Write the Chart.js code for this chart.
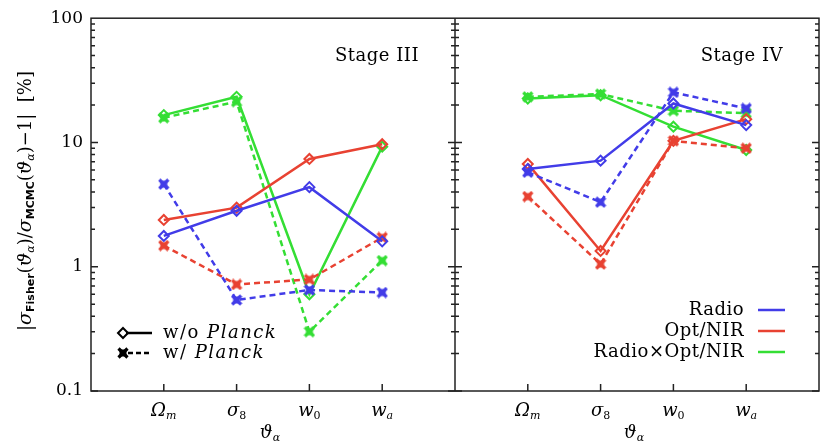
<!DOCTYPE html>
<html>
<head>
<meta charset="utf-8">
<script src="https://cdn.jsdelivr.net/npm/chart.js@4"></script>
<style>
  body { margin: 0; background: #fff; }
  #wrap { width: 830px; height: 447px; }
</style>
</head>
<body>
<div id="wrap"><canvas id="myChart" width="830" height="447"></canvas></div>
<script>
// parameters (x tick labels, main symbol + subscript)
const paramMain = ['Ω', 'σ', 'w', 'w'];
const paramSub = ['m', '8', '0', 'a'];
const stage3X = [1, 2, 3, 4];
const stage4X = [6, 7, 8, 9];

const yTickValues = [0.1, 1, 10, 100];
const yTickLabels = ['0.1', '1', '10', '100'];

// Stage III, |sigma_Fisher/sigma_MCMC - 1| in %
const s3RadioNoPlanck = [1.77, 2.82, 4.37, 1.60];
const s3RadioPlanck   = [4.62, 0.54, 0.65, 0.62];
const s3OptNoPlanck   = [2.38, 2.99, 7.37, 9.67];
const s3OptPlanck     = [1.48, 0.72, 0.79, 1.72];
const s3CrossNoPlanck = [16.6, 23.3, 0.60, 9.25];
const s3CrossPlanck   = [15.8, 21.3, 0.30, 1.12];

// Stage IV
const s4RadioNoPlanck = [6.12, 7.14, 20.6, 13.8];
const s4RadioPlanck   = [5.76, 3.31, 25.3, 18.8];
const s4OptNoPlanck   = [6.72, 1.34, 10.3, 15.4];
const s4OptPlanck     = [3.67, 1.05, 10.3, 8.98];
const s4CrossNoPlanck = [22.6, 24.0, 13.4, 8.7];
const s4CrossPlanck   = [23.3, 24.5, 18.0, 17.2];

const BLUE = 'rgb(66,60,232)';
const RED = 'rgb(232,66,50)';
const GREEN = 'rgb(52,222,52)';
const SERIF = '"DejaVu Serif", serif';

function starMarker(color) {
    let c = document.createElement('canvas');
    c.width = 12; c.height = 12;
    let g = c.getContext('2d');
    g.strokeStyle = color; g.fillStyle = color;
    g.lineWidth = 3.2;
    g.beginPath();
    g.moveTo(1.5, 1.5); g.lineTo(10.5, 10.5);
    g.moveTo(10.5, 1.5); g.lineTo(1.5, 10.5);
    g.stroke();
    g.fillRect(2.5, 2.5, 7, 7);
    return c;
}

function series(xs, ys, color, planck) {
    return {
        data: xs.map((x, i) => ({x: x, y: ys[i]})),
        borderColor: color,
        backgroundColor: 'rgba(0,0,0,0)',
        borderWidth: 2.5,
        borderDash: planck ? [6, 4] : [],
        pointStyle: planck ? starMarker(color) : 'rectRot',
        pointRadius: 5,
        pointBorderWidth: 2,
        pointBorderColor: color,
        pointBackgroundColor: 'rgba(0,0,0,0)',
        tension: 0
    };
}

// draw a run of text pieces, each {t, font, dy}
function drawRich(ctx, parts, x, y, align) {
    let w = 0;
    parts.forEach(p => { ctx.font = p.font; w += ctx.measureText(p.t).width; });
    let cx = align === 'center' ? x - w / 2 : (align === 'right' ? x - w : x);
    ctx.textAlign = 'left';
    ctx.textBaseline = 'middle';
    parts.forEach(p => {
        ctx.font = p.font;
        ctx.fillText(p.t, cx, y + (p.dy || 0));
        cx += ctx.measureText(p.t).width;
    });
}

const frame = {
    id: 'frame',
    afterDatasetsDraw(chart) {
        let ctx = chart.ctx, a = chart.chartArea;
        let xs = chart.scales.x, ys = chart.scales.y;
        let mid = xs.getPixelForValue(5);
        ctx.save();
        ctx.strokeStyle = '#222';
        ctx.lineWidth = 1.5;
        ctx.strokeRect(a.left, a.top, a.right - a.left, a.bottom - a.top);
        ctx.beginPath();
        ctx.moveTo(mid, a.top); ctx.lineTo(mid, a.bottom);
        // y ticks, inward on every vertical edge
        for (let d = -1; d <= 1; d++) {
            for (let m = 1; m <= 9; m++) {
                let v = m * Math.pow(10, d);
                let py = ys.getPixelForValue(v);
                let len = m === 1 ? 7 : 4;
                ctx.moveTo(a.left, py); ctx.lineTo(a.left + len, py);
                ctx.moveTo(a.right, py); ctx.lineTo(a.right - len, py);
                ctx.moveTo(mid - len, py); ctx.lineTo(mid + len, py);
            }
        }
        // x ticks at the parameters
        stage3X.concat(stage4X).forEach(v => {
            let px = xs.getPixelForValue(v);
            ctx.moveTo(px, a.bottom); ctx.lineTo(px, a.bottom - 7);
        });
        ctx.stroke();

        ctx.fillStyle = '#000';
        // x tick labels
        [stage3X, stage4X].forEach(xsArr => {
            xsArr.forEach((v, i) => {
                drawRich(ctx, [
                    {t: paramMain[i], font: 'italic 18px ' + SERIF},
                    {t: paramSub[i], font: (i === 1 || i === 2 ? '' : 'italic ') + '11px ' + SERIF, dy: 5}
                ], xs.getPixelForValue(v), a.bottom + 20, 'center');
            });
        });
        // x titles
        [2.5, 7.5].forEach(v => {
            drawRich(ctx, [
                {t: 'ϑ', font: 'italic 18px ' + SERIF},
                {t: 'α', font: 'italic 11px ' + SERIF, dy: 5}
            ], xs.getPixelForValue(v) - 3, a.bottom + 42, 'center');
        });

        // y title
        ctx.save();
        ctx.translate(26, 201);
        ctx.rotate(-Math.PI / 2);
        let f = '18px ' + SERIF, fi = 'italic 19px ' + SERIF;
        let fs = 'bold 11px "DejaVu Sans", sans-serif', fsi = 'italic 11px ' + SERIF;
        drawRich(ctx, [
            {t: '|', font: f},
            {t: 'σ', font: fi},
            {t: 'Fisher', font: fs, dy: 5},
            {t: '(', font: f},
            {t: 'ϑ', font: fi},
            {t: 'α', font: fsi, dy: 5},
            {t: ')/', font: f},
            {t: 'σ', font: fi},
            {t: 'MCMC', font: fs, dy: 5},
            {t: '(', font: f},
            {t: 'ϑ', font: fi},
            {t: 'α', font: fsi, dy: 5},
            {t: ')\u22121|  [%]', font: f}
        ], 0, 0, 'center');
        ctx.restore();

        // panel labels
        ctx.font = '18px ' + SERIF;
        ctx.letterSpacing = '0.5px';
        ctx.textAlign = 'right';
        ctx.textBaseline = 'middle';
        ctx.fillText('Stage III', 419, 56);
        ctx.fillText('Stage IV', 783, 56);

        // Planck legend (left panel)
        ctx.lineWidth = 2.5;
        ctx.strokeStyle = '#000';
        ctx.beginPath();
        ctx.moveTo(126, 333); ctx.lineTo(152, 333);
        ctx.stroke();
        ctx.setLineDash([5, 3]);
        ctx.beginPath();
        ctx.moveTo(128, 353); ctx.lineTo(152, 353);
        ctx.stroke();
        ctx.setLineDash([]);
        ctx.lineWidth = 2;
        ctx.beginPath();
        ctx.moveTo(123, 328); ctx.lineTo(128, 333); ctx.lineTo(123, 338); ctx.lineTo(118, 333); ctx.closePath();
        ctx.stroke();
        ctx.drawImage(starMarker('#000'), 117, 347);
        ctx.letterSpacing = '1.5px';
        drawRich(ctx, [{t: 'w/o ', font: '18px ' + SERIF}, {t: 'Planck', font: 'italic 18px ' + SERIF}], 163, 333, 'left');
        drawRich(ctx, [{t: 'w/ ', font: '18px ' + SERIF}, {t: 'Planck', font: 'italic 18px ' + SERIF}], 163, 353, 'left');
        ctx.letterSpacing = '0.5px';

        // survey legend (right panel)
        [['Radio', BLUE, 310], ['Opt/NIR', RED, 331], ['Radio\u00d7Opt/NIR', GREEN, 352]].forEach(r => {
            ctx.font = '18px ' + SERIF;
            ctx.textAlign = 'right';
            ctx.fillStyle = '#000';
            ctx.fillText(r[0], 744, r[2]);
            ctx.strokeStyle = r[1];
            ctx.lineWidth = 2.5;
            ctx.beginPath();
            ctx.moveTo(758, r[2]); ctx.lineTo(785, r[2]);
            ctx.stroke();
        });
        ctx.restore();
    }
};

new Chart(document.getElementById('myChart'), {
    type: 'line',
    data: {
        datasets: [
            series(stage3X, s3RadioNoPlanck, BLUE, false),
            series(stage3X, s3RadioPlanck, BLUE, true),
            series(stage3X, s3OptNoPlanck, RED, false),
            series(stage3X, s3OptPlanck, RED, true),
            series(stage3X, s3CrossNoPlanck, GREEN, false),
            series(stage3X, s3CrossPlanck, GREEN, true),
            series(stage4X, s4RadioNoPlanck, BLUE, false),
            series(stage4X, s4RadioPlanck, BLUE, true),
            series(stage4X, s4OptNoPlanck, RED, false),
            series(stage4X, s4OptPlanck, RED, true),
            series(stage4X, s4CrossNoPlanck, GREEN, false),
            series(stage4X, s4CrossPlanck, GREEN, true)
        ]
    },
    options: {
        responsive: false,
        animation: false,
        layout: {padding: {top: 18, right: 11, left: 0, bottom: 0}},
        plugins: {legend: {display: false}, tooltip: {enabled: false}},
        scales: {
            x: {
                type: 'linear', min: 0, max: 10,
                grid: {display: false, drawTicks: false},
                border: {display: false},
                ticks: {display: false},
                afterFit(s) { s.height = 56; }
            },
            y: {
                type: 'logarithmic', min: 0.1, max: 100,
                grid: {display: false, drawTicks: false},
                border: {display: false},
                afterBuildTicks(s) { s.ticks = yTickValues.map(v => ({value: v})); },
                ticks: {
                    padding: 8,
                    color: '#000',
                    font: {family: 'DejaVu Serif', size: 17},
                    callback: (v) => yTickLabels[yTickValues.indexOf(v)]
                },
                afterFit(s) { s.width = 91; }
            }
        }
    },
    plugins: [frame]
});
</script>
</body>
</html>
